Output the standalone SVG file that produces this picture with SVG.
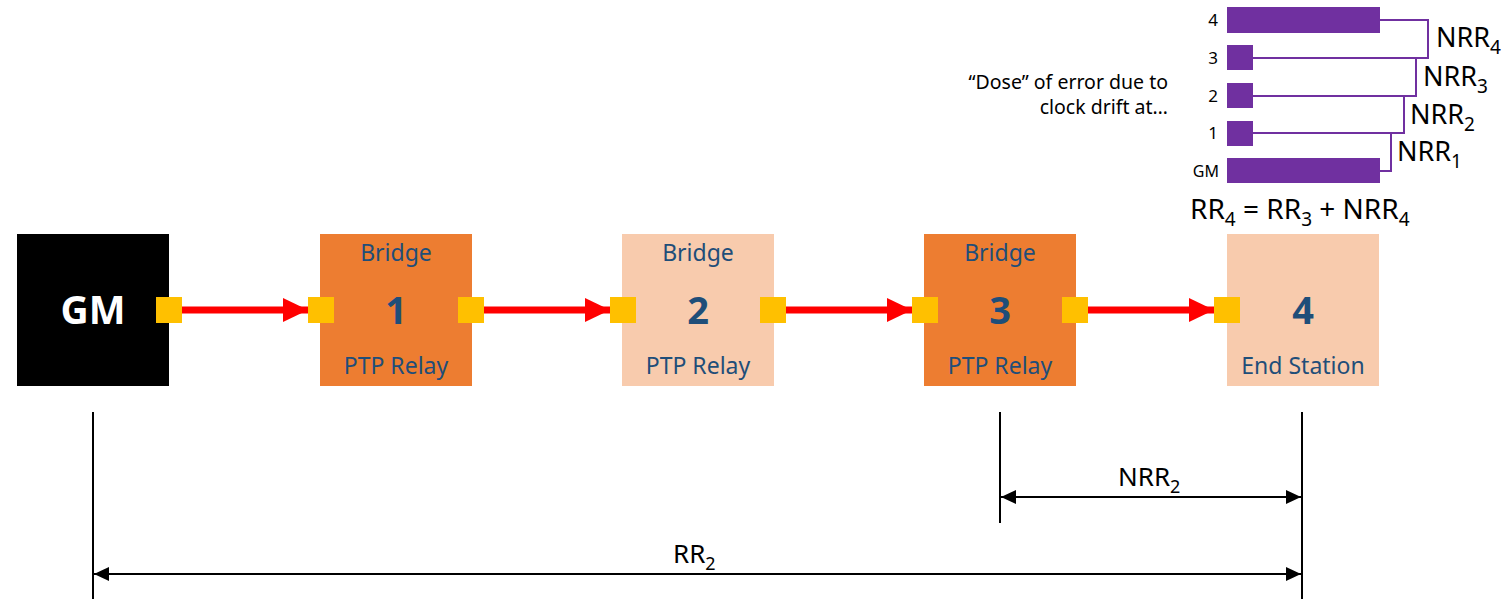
<svg xmlns="http://www.w3.org/2000/svg" width="1509" height="599" viewBox="0 0 1509 599">
<style>
.t{font-family:"Noto Sans","Open Sans","Liberation Sans",sans-serif;}
.lbl{font-size:23px;fill:#1F4E79;text-anchor:middle;}
.num{font-size:38px;font-weight:bold;fill:#1F4E79;text-anchor:middle;}
.port{fill:#FFC000;}
.dark{fill:#ED7D31;}
.light{fill:#F8CBAD;}
.flow{stroke:#FF0000;stroke-width:7;fill:none;}
.dim{stroke:#000;stroke-width:2;fill:none;}
.bar{fill:#7030A0;}
.pl{stroke:#7030A0;stroke-width:2;fill:none;}
.blk{font-size:26px;fill:#000;}
</style>
<defs>
<marker id="ah" markerUnits="userSpaceOnUse" markerWidth="26" markerHeight="26" refX="25" refY="12" orient="auto"><path d="M0,0 L25,12 L0,24 Z" fill="#FF0000"/></marker>
<marker id="dh" markerUnits="userSpaceOnUse" markerWidth="16" markerHeight="14" refX="15" refY="7" orient="auto-start-reverse"><path d="M0,0 L15,7 L0,14 Z" fill="#000"/></marker>
</defs>
<g id="connectors">
<line class="flow" x1="182" y1="310" x2="308" y2="310" marker-end="url(#ah)"/>
<line class="flow" x1="484" y1="310" x2="610" y2="310" marker-end="url(#ah)"/>
<line class="flow" x1="786" y1="310" x2="912" y2="310" marker-end="url(#ah)"/>
<line class="flow" x1="1088" y1="310" x2="1214" y2="310" marker-end="url(#ah)"/>
</g>
<g id="node-gm">
<rect x="17" y="234" width="152" height="152" fill="#000"/>
<text class="t" x="93" y="324" font-size="39" font-weight="bold" fill="#fff" text-anchor="middle">GM</text>
<rect class="port" x="156" y="297" width="26" height="26"/>
</g>
<g id="node-1">
<rect class="dark" x="320" y="234" width="152" height="152"/>
<text class="t lbl" x="396" y="261">Bridge</text>
<text class="t num" x="396" y="324">1</text>
<text class="t lbl" x="396" y="374">PTP Relay</text>
<rect class="port" x="308" y="297" width="26" height="26"/>
<rect class="port" x="458" y="297" width="26" height="26"/>
</g>
<g id="node-2">
<rect class="light" x="622" y="234" width="152" height="152"/>
<text class="t lbl" x="698" y="261">Bridge</text>
<text class="t num" x="698" y="324">2</text>
<text class="t lbl" x="698" y="374">PTP Relay</text>
<rect class="port" x="610" y="297" width="26" height="26"/>
<rect class="port" x="760" y="297" width="26" height="26"/>
</g>
<g id="node-3">
<rect class="dark" x="924" y="234" width="152" height="152"/>
<text class="t lbl" x="1000" y="261">Bridge</text>
<text class="t num" x="1000" y="324">3</text>
<text class="t lbl" x="1000" y="374">PTP Relay</text>
<rect class="port" x="912" y="297" width="26" height="26"/>
<rect class="port" x="1062" y="297" width="26" height="26"/>
</g>
<g id="node-4">
<rect class="light" x="1227" y="234" width="152" height="152"/>
<text class="t num" x="1303" y="324">4</text>
<text class="t lbl" x="1303" y="374">End Station</text>
<rect class="port" x="1214" y="297" width="26" height="26"/>
</g>
<g id="dimensions">
<line class="dim" x1="93" y1="412" x2="93" y2="599"/>
<line class="dim" x1="1000" y1="412" x2="1000" y2="523"/>
<line class="dim" x1="1302" y1="412" x2="1302" y2="599"/>
<line class="dim" x1="1001" y1="497" x2="1301" y2="497" marker-start="url(#dh)" marker-end="url(#dh)"/>
<line class="dim" x1="94" y1="574" x2="1301" y2="574" marker-start="url(#dh)" marker-end="url(#dh)"/>
<text class="t blk" x="1118" y="486">NRR<tspan font-size="18" dy="7">2</tspan></text>
<text class="t blk" x="673" y="563">RR<tspan font-size="18" dy="7">2</tspan></text>
</g>
<g id="chart">
<text class="t" x="1168" y="89" font-size="19.5" text-anchor="end" fill="#000">“Dose” of error due to</text>
<text class="t" x="1168" y="114" font-size="19.5" text-anchor="end" fill="#000">clock drift at…</text>
<g class="t" font-size="17" fill="#000" text-anchor="end">
<text x="1218" y="26">4</text>
<text x="1218" y="64">3</text>
<text x="1218" y="102">2</text>
<text x="1218" y="139">1</text>
<text x="1219" y="177" font-size="16">GM</text>
</g>
<rect class="bar" x="1227" y="7" width="153" height="26"/>
<rect class="bar" x="1227" y="45" width="26" height="25"/>
<rect class="bar" x="1227" y="83" width="26" height="25"/>
<rect class="bar" x="1227" y="121" width="26" height="25"/>
<rect class="bar" x="1227" y="158" width="153" height="25"/>
<polyline class="pl" points="1380,20 1428,20 1428,58 1253,58"/>
<polyline class="pl" points="1416,58 1416,96 1253,96"/>
<polyline class="pl" points="1404,96 1404,133 1253,133"/>
<polyline class="pl" points="1391,133 1391,171 1380,171"/>
<g class="t" font-size="27" fill="#000">
<text x="1436" y="47">NRR<tspan font-size="19" dy="7">4</tspan></text>
<text x="1423" y="86">NRR<tspan font-size="19" dy="7">3</tspan></text>
<text x="1410" y="124">NRR<tspan font-size="19" dy="7">2</tspan></text>
<text x="1397" y="161">NRR<tspan font-size="19" dy="7">1</tspan></text>
</g>
<text class="t" x="1190" y="219" font-size="28" fill="#000">RR<tspan font-size="19" dy="7">4</tspan><tspan dy="-7"> = RR</tspan><tspan font-size="19" dy="7">3</tspan><tspan dy="-7"> + NRR</tspan><tspan font-size="19" dy="7">4</tspan></text>
</g>
</svg>
